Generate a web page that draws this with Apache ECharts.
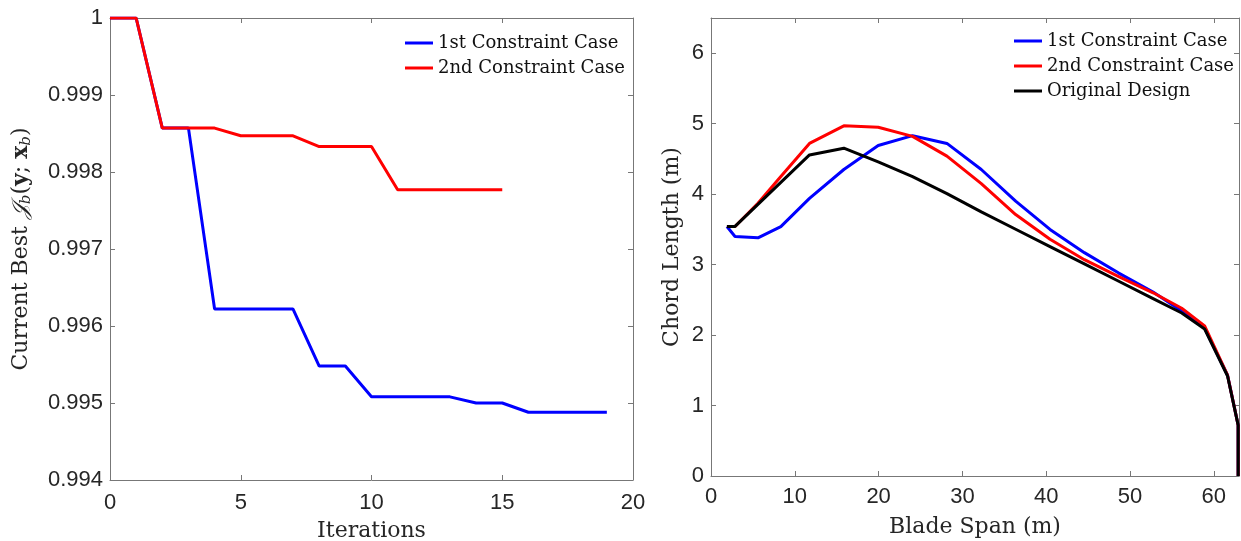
<!DOCTYPE html>
<html>
<head>
<meta charset="utf-8">
<script src="https://cdn.jsdelivr.net/npm/echarts@6/dist/echarts.min.js"></script>
<style>
  html, body { margin: 0; padding: 0; background: #fff; }
  #chart { width: 1241px; height: 541px; }
</style>
</head>
<body>
<div id="chart"></div>
<script>
// left panel: best objective per iteration
var iterations = [0, 1, 2, 3, 4, 5, 6, 7, 8, 9, 10, 11, 12, 13, 14, 15, 16, 17, 18, 19];
var bestCase1 = [1, 1, 0.99857, 0.99857, 0.99622, 0.99622, 0.99622, 0.99622, 0.99548, 0.99548,
                 0.99508, 0.99508, 0.99508, 0.99508, 0.99500, 0.99500, 0.99488, 0.99488, 0.99488, 0.99488];
var bestCase2 = [1, 1, 0.99857, 0.99857, 0.99857, 0.99847, 0.99847, 0.99847, 0.99833, 0.99833,
                 0.99833, 0.99777, 0.99777, 0.99777, 0.99777, 0.99777];

// right panel: chord distribution along the blade
var bladeSpan = [1.9, 2.8667, 5.6, 8.3333, 11.75, 15.85, 19.95, 24.05, 28.15, 32.25, 36.35,
                 40.45, 44.55, 48.65, 52.75, 56.1667, 58.9, 61.6333, 62.9, 62.9];
var chordCase1 = [3.54, 3.40, 3.38, 3.54, 3.94, 4.35, 4.69, 4.83, 4.72, 4.35, 3.90,
                  3.50, 3.17, 2.88, 2.61, 2.34, 2.10, 1.43, 0.72, 0];
var chordCase2 = [3.54, 3.54, 3.87, 4.25, 4.72, 4.97, 4.95, 4.82, 4.54, 4.15, 3.71,
                  3.36, 3.07, 2.83, 2.60, 2.38, 2.13, 1.43, 0.72, 0];
var chordOrig = [3.542, 3.542, 3.854, 4.167, 4.557, 4.652, 4.458, 4.249, 4.007, 3.748, 3.502,
                 3.256, 3.010, 2.764, 2.518, 2.313, 2.086, 1.419, 0.72, 0];

var names = ['1st Constraint Case', '2nd Constraint Case', 'Original Design'];

function pairs(xs, ys) {
    var res = [];
    for (var i = 0; i < ys.length; i++) res.push([xs[i], ys[i]]);
    return res;
}

var serif = 'DejaVu Serif';
var sans = 'Liberation Sans';
var axisColor = '#777';
var labelColor = '#262626';

function mainAxis(extra) {
    var ax = {
        axisLine: { show: true, lineStyle: { color: axisColor, width: 1 } },
        axisTick: { show: true, inside: true, length: 5, lineStyle: { color: axisColor } },
        axisLabel: { color: labelColor, fontFamily: sans, fontSize: 22 },
        splitLine: { show: false },
        nameLocation: 'middle',
        nameTextStyle: { color: labelColor, fontFamily: serif, fontSize: 22 }
    };
    for (var k in extra) ax[k] = extra[k];
    return ax;
}
function mirrorAxis(extra) {
    var ax = {
        axisLine: { show: true, onZero: false, lineStyle: { color: axisColor, width: 1 } },
        axisTick: { show: true, inside: true, length: 5, lineStyle: { color: axisColor } },
        axisLabel: { show: false },
        splitLine: { show: false }
    };
    for (var k in extra) ax[k] = extra[k];
    return ax;
}

var chart = echarts.init(document.getElementById('chart'));

var option = {
    animation: false,
    backgroundColor: '#fff',
    grid: [
        { left: 110, top: 18, width: 523, height: 462, outerBoundsMode: 'none', containLabel: false },
        { left: 711, top: 18, width: 528, height: 458, outerBoundsMode: 'none', containLabel: false }
    ],
    legend: [
        {
            data: [names[0], names[1]],
            orient: 'vertical', left: 400, top: 29, itemGap: 7,
            itemWidth: 28, itemHeight: 3, icon: 'rect',
            textStyle: { fontFamily: serif, fontSize: 18, color: '#111' }
        },
        {
            data: names,
            orient: 'vertical', left: 1009, top: 27, itemGap: 7,
            itemWidth: 28, itemHeight: 3, icon: 'rect',
            textStyle: { fontFamily: serif, fontSize: 18, color: '#111' }
        }
    ],
    xAxis: [
        mainAxis({ type: 'value', gridIndex: 0, min: 0, max: 20, interval: 5,
            name: 'Iterations', nameGap: 40,
            axisLabel: { color: labelColor, fontFamily: sans, fontSize: 22, margin: 12 } }),
        mirrorAxis({ type: 'value', gridIndex: 0, position: 'top', min: 0, max: 20, interval: 5 }),
        mainAxis({ type: 'value', gridIndex: 1, min: 0, max: 63, interval: 10,
            name: 'Blade Span (m)', nameGap: 40,
            axisLabel: { color: labelColor, fontFamily: sans, fontSize: 22, margin: 10, showMaxLabel: false } }),
        mirrorAxis({ type: 'value', gridIndex: 1, position: 'top', min: 0, max: 63, interval: 10 })
    ],
    yAxis: [
        mainAxis({ type: 'value', gridIndex: 0, min: 0.994, max: 1, interval: 0.001,
            name: '{t|Current Best }{j|𝒥}{s|b}{t|(}{b|y}{t|; }{b|x}{s|b}{t|)}',
            nameGap: 76,
            nameTextStyle: {
                color: labelColor, fontFamily: serif, fontSize: 22,
                rich: {
                    t: { fontFamily: serif, fontSize: 22, color: labelColor },
                    j: { fontFamily: serif, fontSize: 22, fontStyle: 'italic', color: labelColor },
                    b: { fontFamily: serif, fontSize: 22, fontWeight: 'bold', color: labelColor },
                    s: { fontFamily: serif, fontSize: 15, fontStyle: 'italic', color: labelColor, padding: [10, 0, 0, 0] }
                }
            },
            axisLabel: { color: labelColor, fontFamily: sans, fontSize: 22, margin: 7,
                formatter: function (v) { return String(+v.toFixed(3)); } } }),
        mirrorAxis({ type: 'value', gridIndex: 0, position: 'right', min: 0.994, max: 1, interval: 0.001 }),
        mainAxis({ type: 'value', gridIndex: 1, min: 0, max: 6.5, interval: 1,
            name: 'Chord Length (m)', nameGap: 28,
            axisLabel: { color: labelColor, fontFamily: sans, fontSize: 22, margin: 7, showMaxLabel: false } }),
        mirrorAxis({ type: 'value', gridIndex: 1, position: 'right', min: 0, max: 6.5, interval: 1 })
    ],
    series: [
        { name: names[0], type: 'line', xAxisIndex: 0, yAxisIndex: 0, symbol: 'none',
          data: pairs(iterations, bestCase1), lineStyle: { color: '#0000ff', width: 3 }, itemStyle: { color: '#0000ff' } },
        { name: names[1], type: 'line', xAxisIndex: 0, yAxisIndex: 0, symbol: 'none',
          data: pairs(iterations, bestCase2), lineStyle: { color: '#ff0000', width: 3 }, itemStyle: { color: '#ff0000' } },
        { name: names[0], type: 'line', xAxisIndex: 2, yAxisIndex: 2, symbol: 'none',
          data: pairs(bladeSpan, chordCase1), lineStyle: { color: '#0000ff', width: 3 }, itemStyle: { color: '#0000ff' } },
        { name: names[1], type: 'line', xAxisIndex: 2, yAxisIndex: 2, symbol: 'none',
          data: pairs(bladeSpan, chordCase2), lineStyle: { color: '#ff0000', width: 3 }, itemStyle: { color: '#ff0000' } },
        { name: names[2], type: 'line', xAxisIndex: 2, yAxisIndex: 2, symbol: 'none',
          data: pairs(bladeSpan, chordOrig), lineStyle: { color: '#000000', width: 3 }, itemStyle: { color: '#000000' } }
    ]
};

chart.setOption(option);
</script>
</body>
</html>
